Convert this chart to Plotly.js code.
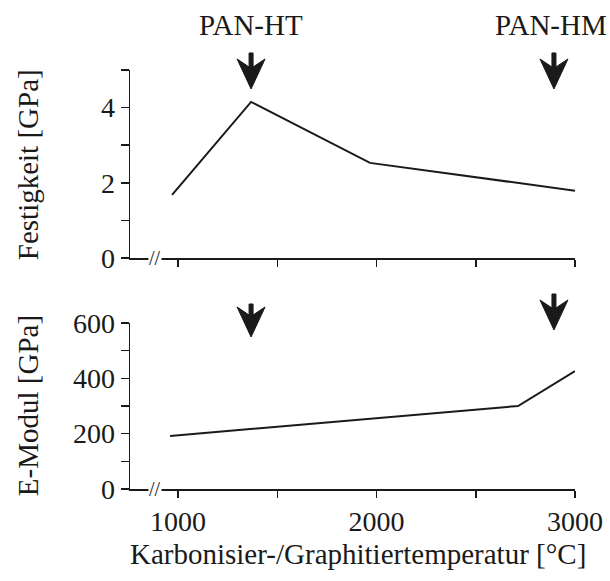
<!DOCTYPE html>
<html>
<head>
<meta charset="utf-8">
<script src="https://cdn.plot.ly/plotly-3.0.1.min.js"></script>
<style>html,body{margin:0;padding:0;background:#fff;}#chart{width:610px;height:581px;}</style>
</head>
<body>
<div id="chart"></div>
<script>
// Data
var festTemp = [970, 1368, 1967, 3000];
var festValue = [1.68, 4.15, 2.53, 1.79];
var modulTemp = [960, 2713, 3000];
var modulValue = [192, 300, 426];
var arrowTemps = [1368, 2894];
var arrowLabels = ['PAN-HT', 'PAN-HM'];
var xTickVals = [1000, 2000, 3000];
var xTickText = ['1000', '2000', '3000'];
var festTicks = [0, 2, 4];
var modulTicks = [0, 200, 400, 600];

var FONT = 'Liberation Serif, Times New Roman, serif';
var INK = '#1a1a1a';
var TICKSIZE = 28;
var TEXTSIZE = 29;

var traces = [
  {x: festTemp, y: festValue, xaxis: 'x', yaxis: 'y', mode: 'lines',
   line: {color: INK, width: 2}, hoverinfo: 'skip'},
  {x: modulTemp, y: modulValue, xaxis: 'x2', yaxis: 'y2', mode: 'lines',
   line: {color: INK, width: 2}, hoverinfo: 'skip'}
];

var xCommon = {
  range: [758, 3000], showgrid: false, zeroline: false, showline: true,
  linecolor: INK, linewidth: 1.5, ticks: 'outside', ticklen: 7, tickwidth: 1.5,
  tickcolor: INK, tickvals: xTickVals, ticktext: xTickText,
  minor: {dtick: 500, tick0: 0, ticks: 'outside', ticklen: 7, tickwidth: 1.5, tickcolor: INK},
  tickfont: {family: FONT, size: TICKSIZE, color: INK}
};
var yCommon = {
  showgrid: false, zeroline: false, showline: true, linecolor: INK, linewidth: 1.5,
  ticks: 'outside', ticklen: 8, tickwidth: 1.5, tickcolor: INK,
  tickfont: {family: FONT, size: TICKSIZE, color: INK}
};

// notched arrow glyph in pixels relative to its tip (y up), stem length given
function arrowPath(len) {
  return 'M0,0 L-14,30 L-2,22 L-2,' + len + ' L2,' + len + ' L2,22 L14,30 Z';
}
// placement of arrow tips (paper fraction) and stem lengths (px)
var arrowSpecs = [
  {i: 0, tip: 0.9547, len: 36},
  {i: 1, tip: 0.9547, len: 36},
  {i: 0, tip: 0.3628, len: 33},
  {i: 1, tip: 0.3795, len: 36}
];
var shapes = arrowSpecs.map(function (s) {
  return {type: 'path', xref: 'x', yref: 'paper', xsizemode: 'pixel', ysizemode: 'pixel',
    xanchor: arrowTemps[s.i], yanchor: s.tip, path: arrowPath(s.len), fillcolor: INK,
    line: {color: INK, width: 1}, layer: 'above'};
});

var annotations = [];
arrowTemps.forEach(function (t, i) {
  annotations.push({x: t, y: 1.107, xref: 'x', yref: 'paper', text: arrowLabels[i],
    showarrow: false, yanchor: 'middle', xshift: i === 1 ? -3 : 0,
    font: {family: FONT, size: TEXTSIZE, color: INK}});
});
// axis break marks
[['x', 'y'], ['x2', 'y2']].forEach(function (a) {
  annotations.push({x: 885, y: 0, xref: a[0], yref: a[1], text: '//', showarrow: false,
    bgcolor: '#ffffff', borderpad: 0, font: {family: FONT, size: 20, color: INK}});
});
// axis titles
annotations.push({x: -0.229, y: 0.773, xref: 'paper', yref: 'paper', text: 'Festigkeit [GPa]',
  textangle: -90, showarrow: false, xanchor: 'center', yanchor: 'middle',
  font: {family: FONT, size: TEXTSIZE, color: INK}});
annotations.push({x: -0.229, y: 0.198, xref: 'paper', yref: 'paper', text: 'E-Modul [GPa]',
  textangle: -90, showarrow: false, xanchor: 'center', yanchor: 'middle',
  font: {family: FONT, size: TEXTSIZE, color: INK}});
annotations.push({x: 0.512, y: -0.155, xref: 'paper', yref: 'paper',
  text: 'Karbonisier-/Graphitiertemperatur [°C]', showarrow: false,
  xanchor: 'center', yanchor: 'middle', font: {family: FONT, size: TEXTSIZE, color: INK}});

var layout = {
  width: 610, height: 581,
  margin: {l: 130, r: 35, t: 70, b: 92},
  paper_bgcolor: '#ffffff', plot_bgcolor: '#ffffff',
  showlegend: false,
  xaxis: Object.assign({}, xCommon, {anchor: 'y', showticklabels: false}),
  yaxis: Object.assign({}, yCommon, {domain: [0.5513, 1], range: [0, 5],
    tickvals: festTicks, minor: {dtick: 1, ticks: 'outside', ticklen: 8, tickwidth: 1.5, tickcolor: INK}}),
  xaxis2: Object.assign({}, xCommon, {anchor: 'y2'}),
  yaxis2: Object.assign({}, yCommon, {domain: [0, 0.3962], range: [0, 600],
    tickvals: modulTicks, minor: {dtick: 100, ticks: 'outside', ticklen: 8, tickwidth: 1.5, tickcolor: INK}}),
  shapes: shapes,
  annotations: annotations
};

Plotly.newPlot('chart', traces, layout, {staticPlot: true, displayModeBar: false});
</script>
</body>
</html>
